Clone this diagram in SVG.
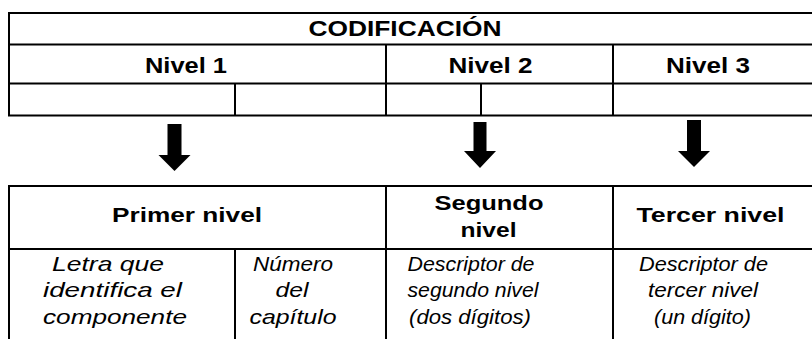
<svg xmlns="http://www.w3.org/2000/svg" width="812" height="339" viewBox="0 0 812 339">
<style>
.ln{stroke:#000;stroke-width:2;fill:none}
.b{font-family:"Liberation Sans",Arial,sans-serif;font-weight:bold;font-size:21px;fill:#000;text-anchor:middle}
.t{font-size:22px}
.i{font-family:"Liberation Sans",Arial,sans-serif;font-style:italic;font-size:21px;fill:#000;text-anchor:middle}
.ar{fill:#000}
</style>
<rect width="812" height="339" fill="#fff"/>
<g id="codificacion">
  <path class="ln" d="M8 13H812M8 44.5H812M8 83.5H812M8 115.5H812M9 13V115.5M386 44.5V115.5M613 44.5V115.5M235 83.5V115.5M481 83.5V115.5"/>
  <text class="b t" x="405" y="36" textLength="193" lengthAdjust="spacingAndGlyphs">CODIFICACIÓN</text>
  <text class="b t" x="186" y="72.5" textLength="82" lengthAdjust="spacingAndGlyphs">Nivel 1</text>
  <text class="b t" x="490.5" y="72.5" textLength="84" lengthAdjust="spacingAndGlyphs">Nivel 2</text>
  <text class="b t" x="708" y="72.5" textLength="84" lengthAdjust="spacingAndGlyphs">Nivel 3</text>
</g>
<g id="connectors">
  <polygon class="ar" points="167.5,124 181.5,124 181.5,155 190.5,155 174.5,171 158.5,155 167.5,155"/>
  <polygon class="ar" points="473.5,122 486.5,122 486.5,151 496,151 480,168 464,151 473.5,151"/>
  <polygon class="ar" points="687,120 701,120 701,151 710,151 694,167 678,151 687,151"/>
</g>
<g id="niveles">
  <path class="ln" d="M8 186H812M8 249H812M9 186V339M386 186V339M613 186V339M235 249V339"/>
  <g id="primer-nivel">
    <text class="b" x="187" y="221.5" textLength="150" lengthAdjust="spacingAndGlyphs">Primer nivel</text>
    <text class="i" x="108" y="270.5" textLength="112" lengthAdjust="spacingAndGlyphs">Letra que</text>
    <text class="i" x="112.5" y="297" textLength="139" lengthAdjust="spacingAndGlyphs">identifica el</text>
    <text class="i" x="115" y="323.5" textLength="144" lengthAdjust="spacingAndGlyphs">componente</text>
    <text class="i" x="293" y="270.5" textLength="80" lengthAdjust="spacingAndGlyphs">Número</text>
    <text class="i" x="292" y="297" textLength="33" lengthAdjust="spacingAndGlyphs">del</text>
    <text class="i" x="293" y="323.5" textLength="87" lengthAdjust="spacingAndGlyphs">capítulo</text>
  </g>
  <g id="segundo-nivel">
    <text class="b" x="489" y="210" textLength="109" lengthAdjust="spacingAndGlyphs">Segundo</text>
    <text class="b" x="488.5" y="236.5" textLength="56" lengthAdjust="spacingAndGlyphs">nivel</text>
    <text class="i" x="471" y="270.5" textLength="127" lengthAdjust="spacingAndGlyphs">Descriptor de</text>
    <text class="i" x="473" y="297" textLength="131" lengthAdjust="spacingAndGlyphs">segundo nivel</text>
    <text class="i" x="470" y="323.5" textLength="122" lengthAdjust="spacingAndGlyphs">(dos dígitos)</text>
  </g>
  <g id="tercer-nivel">
    <text class="b" x="710.5" y="221.5" textLength="148" lengthAdjust="spacingAndGlyphs">Tercer nivel</text>
    <text class="i" x="703.5" y="270.5" textLength="129" lengthAdjust="spacingAndGlyphs">Descriptor de</text>
    <text class="i" x="703" y="297" textLength="110" lengthAdjust="spacingAndGlyphs">tercer nivel</text>
    <text class="i" x="702.5" y="323.5" textLength="97" lengthAdjust="spacingAndGlyphs">(un dígito)</text>
  </g>
</g>
</svg>
